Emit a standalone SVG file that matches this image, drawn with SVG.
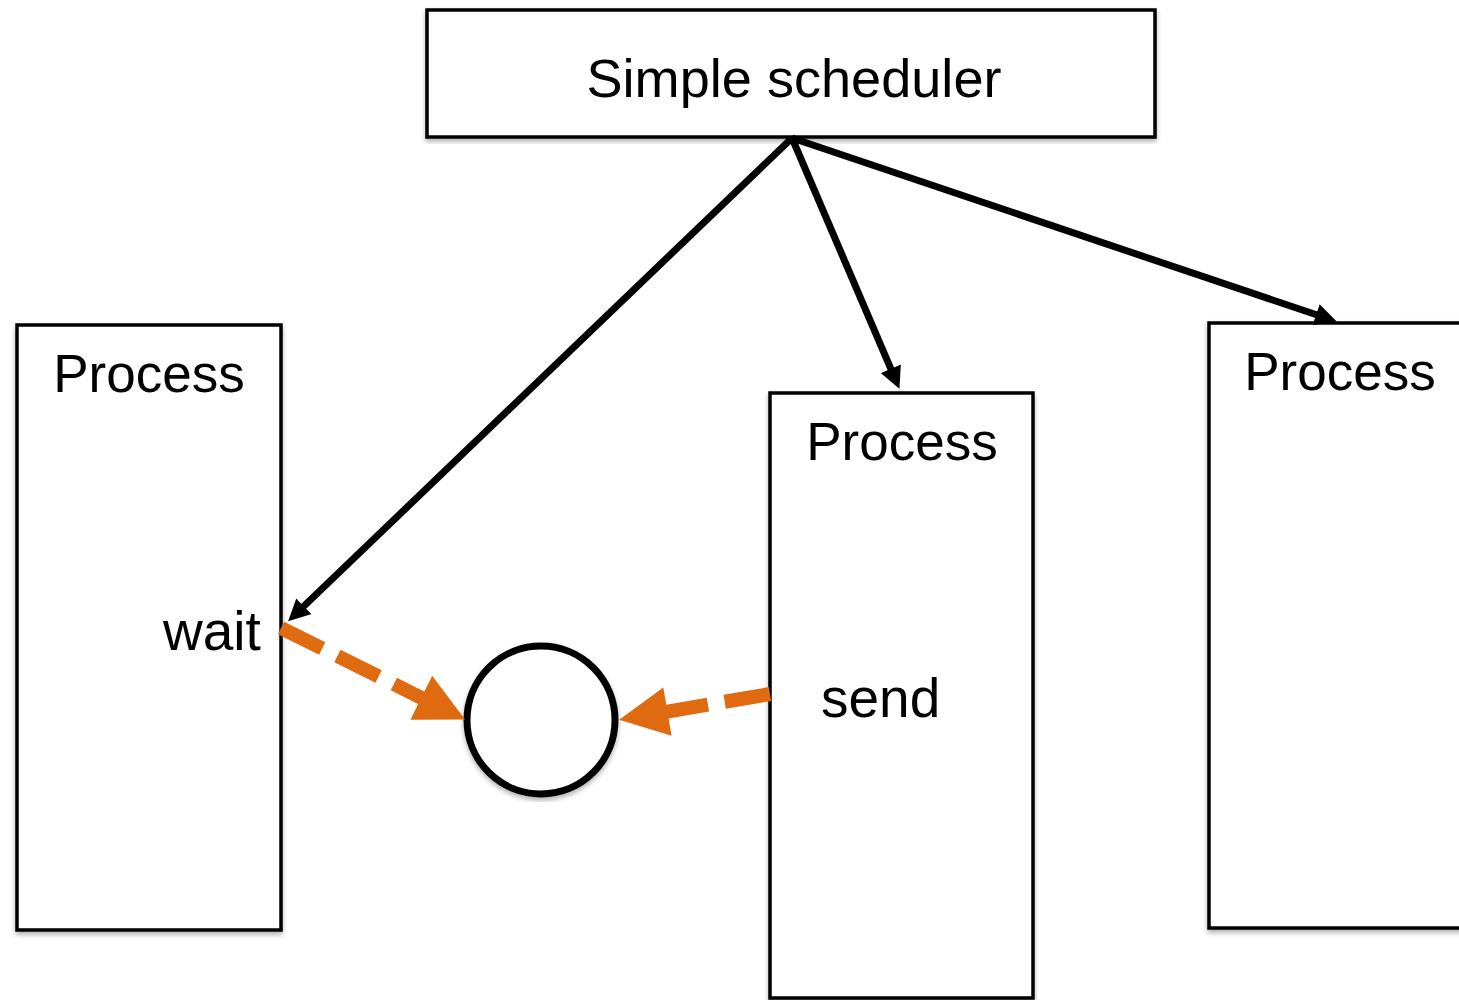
<svg xmlns="http://www.w3.org/2000/svg" width="1459" height="1000" viewBox="0 0 1459 1000">
<style>
.box{fill:#fff;stroke:#000;stroke-width:3.5;filter:url(#sh)}
.lbl{font-family:"Liberation Sans",Arial,sans-serif;font-size:53px;fill:#000;text-anchor:middle}
.op{font-family:"Liberation Sans",Arial,sans-serif;font-size:55px;fill:#000}
.blk{stroke:#000;stroke-width:7;fill:none;marker-end:url(#ab)}
.org{stroke:#E06A10;stroke-width:14;fill:none;stroke-dasharray:46 17;marker-end:url(#ao)}
</style>
<defs>
<filter id="sh" x="-5%" y="-5%" width="110%" height="110%">
<feDropShadow dx="0" dy="3" stdDeviation="2.5" flood-color="#000" flood-opacity="0.3"/>
</filter>
<marker id="ab" viewBox="0 0 10 10" refX="0.5" refY="5" markerWidth="3.15" markerHeight="3.1" orient="auto" markerUnits="strokeWidth">
<path d="M0,0 L10,5 L0,10 z" fill="#000"/>
</marker>
<marker id="ao" viewBox="0 0 10 10" refX="0.3" refY="5" markerWidth="3.6" markerHeight="3.5" orient="auto" markerUnits="strokeWidth">
<path d="M0,0 L10,5 L0,10 z" fill="#E06A10"/>
</marker>
</defs>
<g id="scheduler">
<rect class="box" x="427" y="10" width="728" height="127"/>
<text class="lbl" x="794" y="97" textLength="415" lengthAdjust="spacingAndGlyphs">Simple scheduler</text>
</g>
<g id="process1">
<rect class="box" x="17" y="325" width="264" height="605"/>
<text class="lbl" x="149" y="392">Process</text>
<text class="op" x="163" y="650">wait</text>
</g>
<g id="process2">
<rect class="box" x="770" y="393" width="263" height="605"/>
<text class="lbl" x="902" y="460">Process</text>
<text class="op" x="821" y="717">send</text>
</g>
<g id="process3">
<rect class="box" x="1209" y="323" width="260" height="605"/>
<text class="lbl" x="1340" y="390">Process</text>
</g>
<g id="channel">
<circle cx="541" cy="720" r="74" fill="#fff" stroke="#000" stroke-width="7" filter="url(#sh)"/>
</g>
<g id="connectors">
<line class="blk" x1="792" y1="138" x2="303" y2="607"/>
<line class="blk" x1="792" y1="138" x2="891.3" y2="369.8"/>
<line class="blk" x1="792" y1="138" x2="1317.2" y2="315"/>
<line class="org" x1="281" y1="628" x2="422.6" y2="698.4"/>
<line class="org" x1="770" y1="694" x2="666" y2="711.8"/>
</g>
</svg>
